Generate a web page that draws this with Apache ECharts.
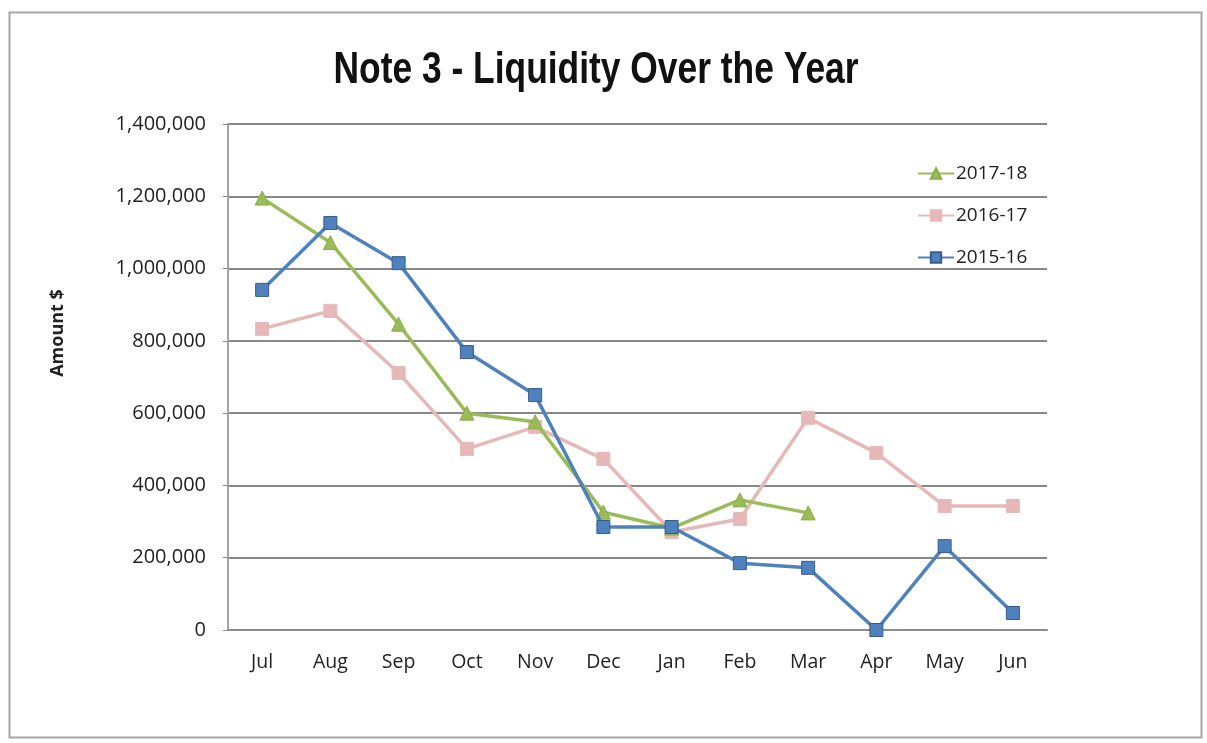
<!DOCTYPE html>
<html>
<head>
<meta charset="utf-8">
<script src="https://cdn.jsdelivr.net/npm/echarts@6/dist/echarts.min.js"></script>
<style>
  html, body { margin: 0; padding: 0; background: #fff; }
  #chart { width: 1207px; height: 743px; }
</style>
</head>
<body>
<div id="chart"></div>
<script>
// Months of the financial year
const months = ['Jul', 'Aug', 'Sep', 'Oct', 'Nov', 'Dec', 'Jan', 'Feb', 'Mar', 'Apr', 'May', 'Jun'];

// Liquidity balances ($) per month
const fy1718 = [1195000, 1072000, 846000, 600000, 576000, 326000, 282000, 360000, 324000, null, null, null];
const fy1617 = [833000, 883000, 711000, 501000, 562000, 473000, 271000, 307000, 587000, 490000, 343000, 343000];
const fy1516 = [941000, 1126000, 1015000, 769000, 650000, 285000, 285000, 185000, 172000, 0, 232000, 47000];

const yTicks = { min: 0, max: 1400000, interval: 200000 };

const chart = echarts.init(document.getElementById('chart'));
const labelFont = '"Open Sans", "Noto Sans", sans-serif';
const textColor = '#222222';

chart.setOption({
  animation: false,
  backgroundColor: '#ffffff',
  graphic: [
    {
      type: 'rect',
      shape: { x: 9.5, y: 12.5, width: 1192, height: 725 },
      style: { fill: 'none', stroke: '#a6a6a6', lineWidth: 2 },
      silent: true
    },
    {
      type: 'text',
      x: 596, y: 71,
      scaleX: 0.983, scaleY: 1.25,
      style: {
        text: 'Note 3 - Liquidity Over the Year',
        font: 'bold 36px "Liberation Sans Narrow", "Liberation Sans", Arial, sans-serif',
        fill: '#111111',
        textAlign: 'center',
        textVerticalAlign: 'middle'
      }
    },
    {
      type: 'text',
      x: 58, y: 333,
      rotation: Math.PI / 2,
      style: {
        text: 'Amount $',
        font: 'bold 18px "Open Sans", "Noto Sans", sans-serif',
        fill: textColor,
        textAlign: 'center',
        textVerticalAlign: 'middle'
      }
    }
  ],
  grid: { left: 228, right: 160, top: 124, bottom: 113, containLabel: false },
  legend: {
    data: ['2017-18', '2016-17', '2015-16'],
    orient: 'vertical',
    left: 912,
    top: 159,
    itemWidth: 36,
    itemHeight: 13,
    itemGap: 23,
    textStyle: { fontFamily: labelFont, fontSize: 19, color: textColor, padding: [0, 0, 0, -3] }
  },
  xAxis: {
    type: 'category',
    data: months,
    boundaryGap: true,
    axisLine: { lineStyle: { color: '#8c8c8c', width: 2 } },
    axisTick: { show: false },
    axisLabel: { fontFamily: labelFont, fontSize: 19.5, color: textColor, margin: 22 }
  },
  yAxis: {
    type: 'value',
    min: yTicks.min,
    max: yTicks.max,
    interval: yTicks.interval,
    axisLine: { show: true, lineStyle: { color: '#a6a6a6', width: 2 } },
    axisTick: { show: true, length: 5, lineStyle: { color: '#8c8c8c' } },
    axisLabel: {
      fontFamily: labelFont, fontSize: 20, color: textColor, margin: 22,
      formatter: v => v.toLocaleString('en-US')
    },
    splitLine: { lineStyle: { color: '#888888', width: 2 } }
  },
  series: [
    {
      name: '2016-17',
      type: 'line',
      data: fy1617,
      symbol: 'rect',
      symbolSize: 13,
      lineStyle: { color: '#e6b9b8', width: 3.5 },
      itemStyle: { color: '#e6b9b8', borderColor: '#e6b9b8', borderWidth: 1 },
      z: 2
    },
    {
      name: '2017-18',
      type: 'line',
      data: fy1718,
      symbol: 'triangle',
      symbolSize: 14,
      lineStyle: { color: '#9bbb59', width: 3.5 },
      itemStyle: { color: '#9bbb59', borderColor: '#8aae45', borderWidth: 1 },
      z: 3
    },
    {
      name: '2015-16',
      type: 'line',
      data: fy1516,
      symbol: 'rect',
      symbolSize: 13,
      lineStyle: { color: '#4f81bd', width: 3.5 },
      itemStyle: { color: '#4f81bd', borderColor: '#385d8a', borderWidth: 1 },
      z: 4
    }
  ]
});
</script>
</body>
</html>
